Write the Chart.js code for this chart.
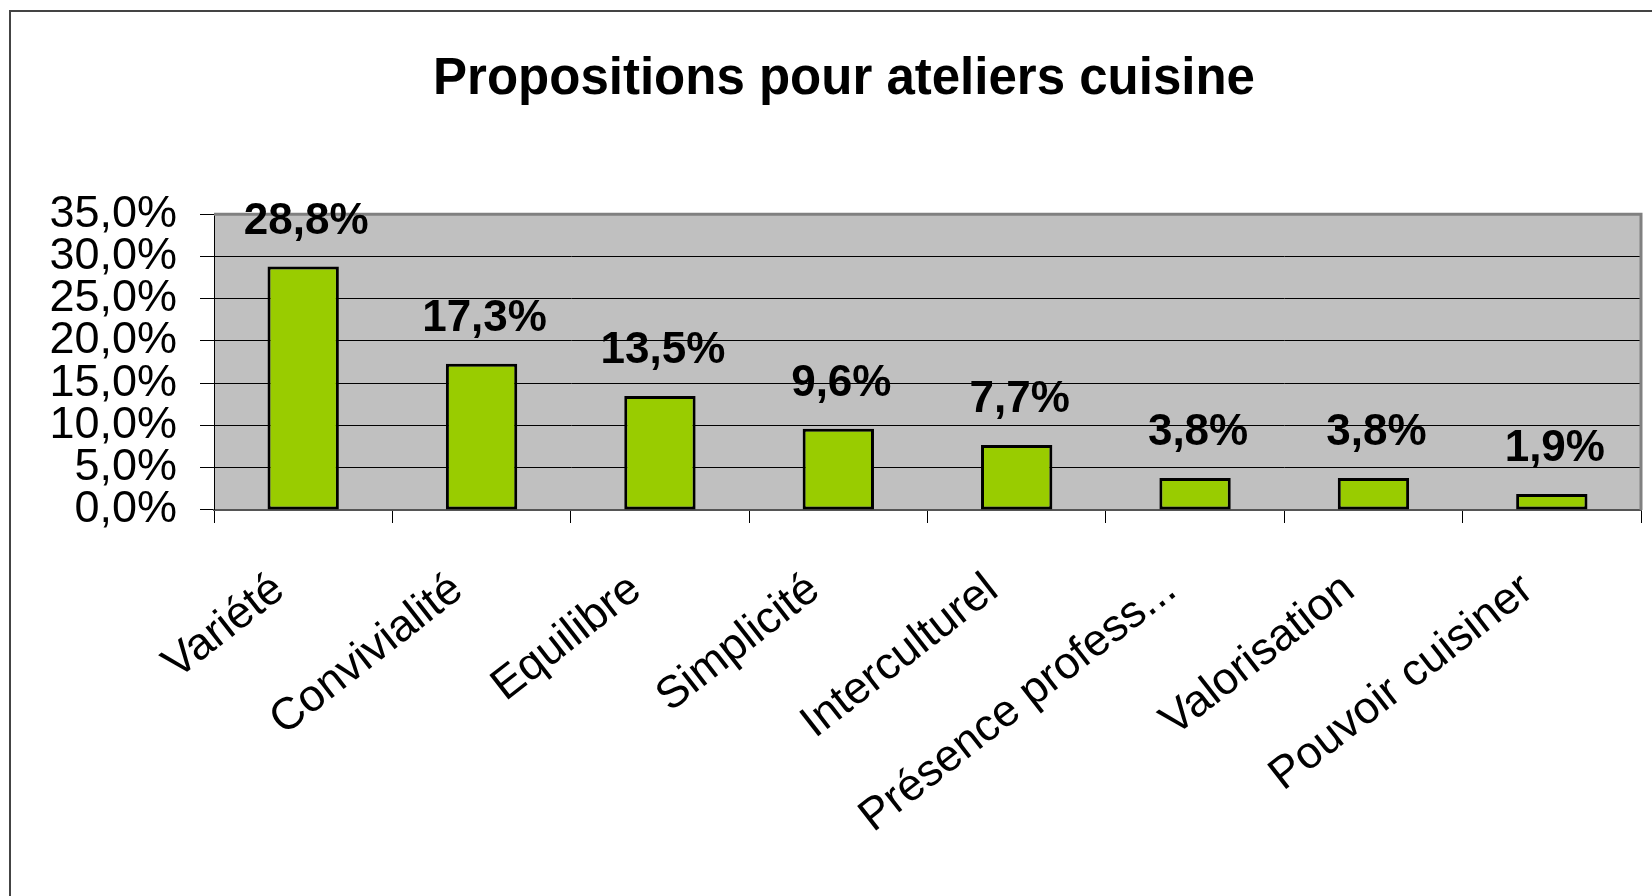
<!DOCTYPE html>
<html lang="fr">
<head>
<meta charset="UTF-8">
<title>Propositions pour ateliers cuisine</title>
<script src="https://cdn.jsdelivr.net/npm/chart.js@4.4.1/dist/chart.umd.min.js"></script>
<style>
  html, body { margin: 0; padding: 0; background: #fff; overflow: hidden; }
  canvas { display: block; }
</style>
</head>
<body>
<canvas id="chart" width="1652" height="896"></canvas>
<script>
// data
const categories = ["Variété", "Convivialité", "Equilibre", "Simplicité", "Interculturel",
                    "Présence profess...", "Valorisation", "Pouvoir cuisiner"];
const values = [28.8, 17.3, 13.5, 9.6, 7.7, 3.8, 3.8, 1.9];
const yTicks = [0, 5, 10, 15, 20, 25, 30, 35];
const chartTitle = "Propositions pour ateliers cuisine";

const FONT = "'Liberation Sans', Arial, sans-serif";
const fmt = v => v.toFixed(1).replace(".", ",") + "%";

// gray plot area + outer frame lines
const frame = {
  id: "frame",
  beforeDraw(chart) {
    const c = chart.ctx, a = chart.chartArea;
    c.save();
    c.fillStyle = "#fff";
    c.fillRect(0, 0, chart.width, chart.height);
    c.strokeStyle = "#444";
    c.lineWidth = 2;
    c.beginPath();
    c.moveTo(10, chart.height);
    c.lineTo(10, 11);
    c.lineTo(chart.width, 11);
    c.stroke();
    c.fillStyle = "#c0c0c0";
    c.fillRect(a.left, a.top, a.right - a.left, a.bottom - a.top);
    c.restore();
  },
  beforeDatasetsDraw(chart) {
    const c = chart.ctx, a = chart.chartArea;
    c.save();
    c.strokeStyle = "#808080";
    c.lineWidth = 3;
    c.beginPath();
    c.moveTo(a.left, a.top);
    c.lineTo(a.right, a.top);
    c.lineTo(a.right, a.bottom);
    c.stroke();
    c.restore();
  }
};

// value labels above bars
const valueLabels = {
  id: "valueLabels",
  afterDatasetsDraw(chart) {
    const c = chart.ctx;
    const meta = chart.getDatasetMeta(0);
    c.save();
    c.font = "bold 44px " + FONT;
    c.fillStyle = "#000";
    c.textAlign = "center";
    c.textBaseline = "alphabetic";
    meta.data.forEach((bar, i) => {
      c.fillText(fmt(values[i]), bar.x + 3, bar.y - 33);
    });
    c.restore();
  }
};

new Chart(document.getElementById("chart"), {
  type: "bar",
  data: {
    labels: categories,
    datasets: [{
      data: values,
      backgroundColor: "#99cc00",
      borderColor: "#000",
      borderWidth: 3,
      borderSkipped: false,
      barPercentage: 0.4,
      categoryPercentage: 1.0
    }]
  },
  options: {
    responsive: false,
    animation: false,
    layout: { padding: { top: 10, left: 47, right: 11, bottom: 0 } },
    plugins: {
      legend: { display: false },
      tooltip: { enabled: false },
      title: {
        display: true,
        text: chartTitle,
        color: "#000",
        font: { family: FONT, size: 51, weight: "bold" },
        padding: { top: 39, bottom: 104 }
      }
    },
    scales: {
      x: {
        grid: {
          drawOnChartArea: false,
          drawTicks: true,
          tickLength: 13,
          tickColor: "#000",
          tickWidth: 1
        },
        border: { color: "#555", width: 2 },
        ticks: {
          autoSkip: false,
          minRotation: 38,
          maxRotation: 38,
          padding: 40,
          labelOffset: -24,
          color: "#000",
          font: { family: FONT, size: 45 }
        },
        afterFit(scale) { scale.height = 386; }
      },
      y: {
        min: 0,
        max: 35,
        afterBuildTicks(scale) { scale.ticks = yTicks.map(v => ({ value: v })); },
        grid: {
          color: ctx => (ctx.tick && ctx.tick.value === 35) ? "#808080" : "#000",
          lineWidth: 1,
          drawTicks: true,
          tickLength: 14,
          tickColor: "#000"
        },
        border: { color: "#000", width: 1 },
        ticks: {
          autoSkip: false,
          padding: 23,
          color: "#000",
          font: { family: FONT, size: 45 },
          callback: v => fmt(v)
        },
        afterFit(scale) { scale.width = 167; }
      }
    }
  },
  plugins: [frame, valueLabels]
});
</script>
</body>
</html>
